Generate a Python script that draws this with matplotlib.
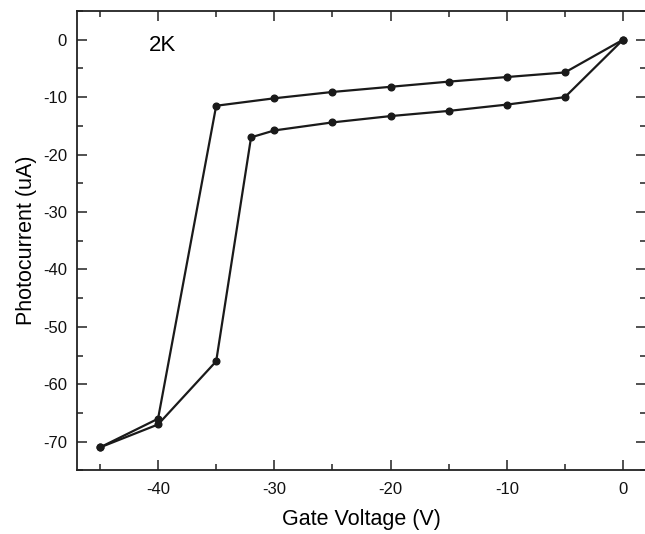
import matplotlib
matplotlib.use("Agg")
import matplotlib.pyplot as plt
from matplotlib.ticker import MultipleLocator

plt.rcParams['font.family'] = ['Liberation Sans', 'DejaVu Sans']
plt.rcParams['axes.unicode_minus'] = False

# Sweep from 0 V down to -45 V (upper branch)
v_down = [0, -5, -10, -15, -20, -25, -30, -35, -40, -45]
i_down = [0, -5.7, -6.5, -7.3, -8.2, -9.1, -10.2, -11.5, -66.0, -71.0]
# Sweep back from -45 V up to 0 V (lower branch)
v_up = [-45, -40, -35, -32, -30, -25, -20, -15, -10, -5, 0]
i_up = [-71.0, -67.0, -56.0, -17.0, -15.8, -14.4, -13.3, -12.4, -11.3, -10.0, 0]

label_text = "2K"
xlabel = "Gate Voltage (V)"
ylabel = "Photocurrent (uA)"

fig = plt.figure(figsize=(6.45, 5.34), dpi=100)
ax = fig.add_axes([0.1189, 0.1191, 0.8831, 0.8603])

style = dict(color='#1a1a1a', lw=1.6, marker='o', markersize=4.8)
ax.plot(v_down, i_down, **style)
ax.plot(v_up, i_up, **style)

ax.set_xlim(-47, 2)
ax.set_ylim(-75, 5)
ax.xaxis.set_major_locator(MultipleLocator(10))
ax.xaxis.set_minor_locator(MultipleLocator(5))
ax.yaxis.set_major_locator(MultipleLocator(10))
ax.yaxis.set_minor_locator(MultipleLocator(5))

ax.tick_params(which='both', direction='in', top=True, right=True,
               labelsize=12, color='#222222', width=1.1, labelcolor='#111111')
ax.tick_params(which='major', length=7)
ax.tick_params(which='minor', length=4.3)
ax.tick_params(axis='x', which='major', pad=8)
ax.tick_params(axis='y', which='major', pad=7)

for s in ax.spines.values():
    s.set_linewidth(1.3)
    s.set_color('#222222')

ax.set_xlabel(xlabel, fontsize=15.5, labelpad=9)
ax.set_ylabel(ylabel, fontsize=15.5, labelpad=4)

ax.text(-39.6, -1.0, label_text, fontsize=16, ha='center', va='center')

fig.savefig("out.png", dpi=100)
